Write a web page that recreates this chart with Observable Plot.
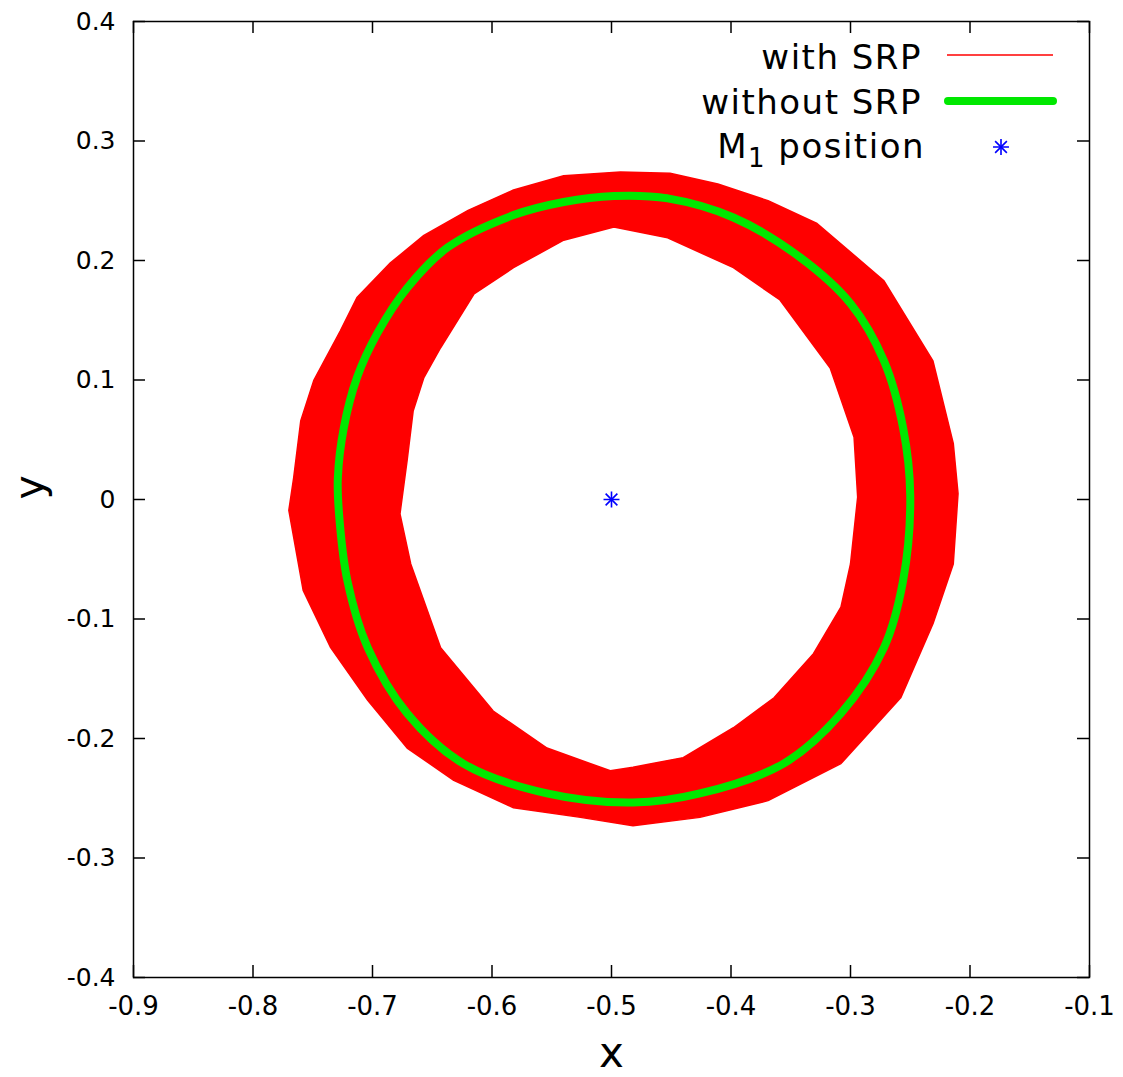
<!DOCTYPE html>
<html>
<head>
<meta charset="utf-8">
<script src="https://cdn.jsdelivr.net/npm/d3@7"></script>
<script src="https://cdn.jsdelivr.net/npm/@observablehq/plot@0.6"></script>
<style>
  body { margin: 0; background: #fff; }
  #chart { width: 1123px; height: 1077px; }
</style>
</head>
<body>
<div id="chart"></div>
<script>
// ---- data ----
const xTicks = [-0.9, -0.8, -0.7, -0.6, -0.5, -0.4, -0.3, -0.2, -0.1];
const yTicks = [-0.4, -0.3, -0.2, -0.1, 0, 0.1, 0.2, 0.3, 0.4];

// outer envelope of the trajectory "with SRP"
const outerX = [-0.540, -0.4925, -0.451, -0.411, -0.369, -0.328, -0.272, -0.231, -0.214, -0.210, -0.214, -0.231, -0.258, -0.308, -0.369, -0.426, -0.482, -0.526, -0.582, -0.632, -0.671, -0.704, -0.735, -0.758, -0.770, -0.766, -0.760, -0.749, -0.727, -0.713, -0.685, -0.657, -0.620, -0.582];
const outerY = [0.271, 0.274, 0.273, 0.264, 0.250, 0.231, 0.183, 0.116, 0.047, 0.005, -0.054, -0.104, -0.166, -0.221, -0.252, -0.266, -0.273, -0.266, -0.258, -0.235, -0.208, -0.168, -0.124, -0.076, -0.009, 0.018, 0.066, 0.100, 0.141, 0.169, 0.198, 0.221, 0.242, 0.259];
// inner envelope of the trajectory "with SRP"
const innerX = [-0.540, -0.498, -0.453, -0.398, -0.359, -0.317, -0.297, -0.294, -0.300, -0.308, -0.331, -0.364, -0.398, -0.440, -0.482, -0.501, -0.554, -0.599, -0.643, -0.668, -0.677, -0.671, -0.666, -0.657, -0.643, -0.615, -0.582];
const innerY = [0.217, 0.228, 0.219, 0.194, 0.167, 0.110, 0.052, 0.002, -0.054, -0.090, -0.129, -0.166, -0.191, -0.216, -0.224, -0.227, -0.208, -0.177, -0.124, -0.054, -0.012, 0.033, 0.074, 0.102, 0.127, 0.172, 0.194];

// orbit "without SRP"
const greenX = [-0.498, -0.453, -0.398, -0.342, -0.300, -0.272, -0.256, -0.250, -0.256, -0.272, -0.308, -0.356, -0.426, -0.482, -0.554, -0.624, -0.671, -0.704, -0.721, -0.728, -0.729, -0.724, -0.713, -0.696, -0.671, -0.637, -0.582, -0.540];
const greenY = [0.254, 0.252, 0.236, 0.2025, 0.164, 0.116, 0.060, 0.003, -0.068, -0.124, -0.179, -0.221, -0.246, -0.2536, -0.246, -0.221, -0.179, -0.124, -0.068, -0.012, 0.018, 0.060, 0.102, 0.139, 0.177, 0.211, 0.238, 0.249];

// M1 position
const m1X = [-0.5];
const m1Y = [0];

const legendLabels = ["with SRP", "without SRP", "M1 position"];

// ---- build tables ----
const outer = outerX.map((x, i) => ({x, y: outerY[i]}));
const inner = innerX.map((x, i) => ({x, y: innerY[i]})).reverse();
const ring = [...outer, outer[0], ...inner, inner[0]];
const green = greenX.map((x, i) => ({x, y: greenY[i]}));
const m1 = m1X.map((x, i) => ({x, y: m1Y[i]}));

const fmt = d => (Math.abs(d) < 1e-9 ? "0" : d.toFixed(1));

const W = 1123, H = 1077;
const mL = 133, mR = 34, mT = 21, mB = 100;
const frameH = H - mT - mB;
const frameW = W - mL - mR;
const tickLen = 12;

const plot = Plot.plot({
  width: W,
  height: H,
  marginLeft: mL,
  marginRight: mR,
  marginTop: mT,
  marginBottom: mB,
  style: {fontFamily: "DejaVu Sans", color: "black", background: "white"},
  x: {domain: [-0.9, -0.1]},
  y: {domain: [-0.4, 0.4]},
  marks: [
    // with SRP band
    Plot.line(ring, {x: "x", y: "y", fill: "#ff0000", stroke: "#ff0000", strokeWidth: 1.5, strokeLinejoin: "round"}),
    // without SRP
    Plot.line(green, {x: "x", y: "y", stroke: "#00e800", strokeWidth: 8, curve: "catmull-rom-closed"}),
    // M1 position
    Plot.dot(m1, {x: "x", y: "y", symbol: "plus", r: 5.2, stroke: "#0000ff", strokeWidth: 1.6}),
    Plot.dot(m1, {x: "x", y: "y", symbol: "times", r: 5.4, stroke: "#0000ff", strokeWidth: 1.6}),
    // inward ticks on all four sides
    Plot.tickX(xTicks, {x: d => d, insetTop: frameH - tickLen, stroke: "black", strokeWidth: 1.5}),
    Plot.tickX(xTicks, {x: d => d, insetBottom: frameH - tickLen, stroke: "black", strokeWidth: 1.5}),
    Plot.tickY(yTicks, {y: d => d, insetRight: frameW - tickLen, stroke: "black", strokeWidth: 1.5}),
    Plot.tickY(yTicks, {y: d => d, insetLeft: frameW - tickLen, stroke: "black", strokeWidth: 1.5}),
    Plot.frame({stroke: "black", strokeWidth: 1.5}),
    Plot.axisX({ticks: xTicks, tickSize: 0, tickPadding: 19, tickFormat: fmt, fontSize: 26, label: null}),
    Plot.axisY({ticks: yTicks, tickSize: 0, tickPadding: 18, tickFormat: fmt, fontSize: 25, label: null}),
    Plot.text(["x"], {frameAnchor: "bottom", dy: 76, lineAnchor: "middle", fontSize: 42, text: d => d}),
    Plot.text(["y"], {frameAnchor: "left", dx: -104, lineAnchor: "middle", rotate: -90, fontSize: 41, text: d => d})
  ]
});

document.getElementById("chart").appendChild(plot);

// ---- legend (inside top-right, gnuplot style) ----
const svg = d3.select(plot);
const lg = svg.append("g")
  .attr("font-family", "DejaVu Sans")
  .attr("font-size", 34)
  .attr("letter-spacing", "1.5px")
  .attr("fill", "black");

const textRight = 922;
const rowBase = [69, 114, 158];
const rowMid = [55, 101, 147];

lg.append("text").attr("x", textRight).attr("y", rowBase[0]).attr("text-anchor", "end").text(legendLabels[0]);
lg.append("text").attr("x", textRight).attr("y", rowBase[1]).attr("text-anchor", "end").text(legendLabels[1]);
const t3 = lg.append("text").attr("x", textRight + 3).attr("y", rowBase[2]).attr("text-anchor", "end");
t3.append("tspan").text("M");
t3.append("tspan").attr("font-size", 26).attr("dy", 9).text("1");
t3.append("tspan").attr("dy", -9).text(" position");

lg.append("line").attr("x1", 947).attr("x2", 1053).attr("y1", rowMid[0]).attr("y2", rowMid[0])
  .attr("stroke", "#ff0000").attr("stroke-width", 1.5);
lg.append("line").attr("x1", 948).attr("x2", 1053).attr("y1", rowMid[1]).attr("y2", rowMid[1])
  .attr("stroke", "#00e800").attr("stroke-width", 8).attr("stroke-linecap", "round");
const plusPath = d3.symbol(d3.symbolPlus, Math.PI * 5.2 * 5.2)();
const timesPath = d3.symbol(d3.symbolTimes, Math.PI * 5.4 * 5.4)();
lg.append("path").attr("d", plusPath).attr("transform", `translate(1001,${rowMid[2]})`)
  .attr("fill", "none").attr("stroke", "#0000ff").attr("stroke-width", 1.6);
lg.append("path").attr("d", timesPath).attr("transform", `translate(1001,${rowMid[2]})`)
  .attr("fill", "none").attr("stroke", "#0000ff").attr("stroke-width", 1.6);
</script>
</body>
</html>
